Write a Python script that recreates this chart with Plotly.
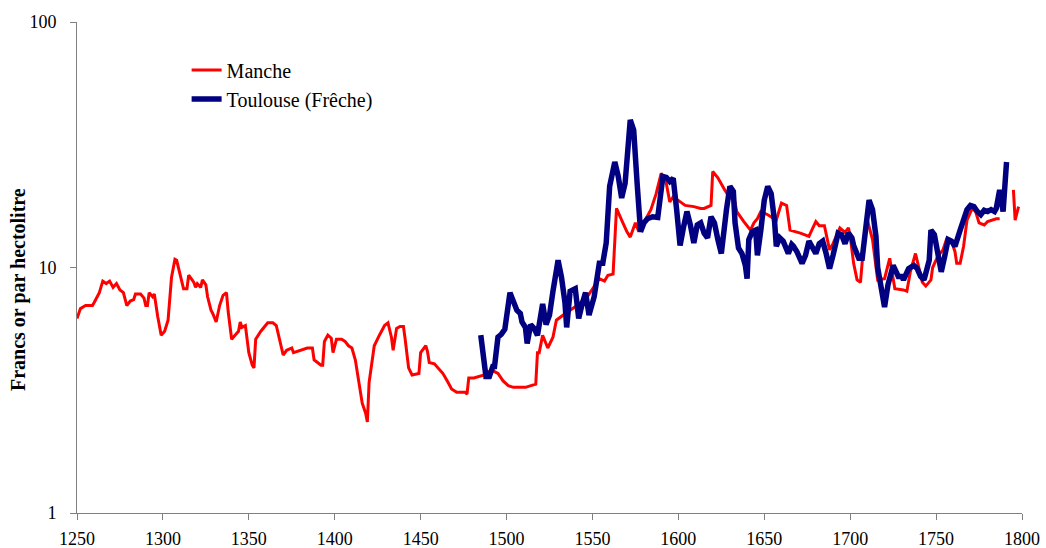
import plotly.graph_objects as go

# Manche series (francs or par hectolitre)
manche_years = [
    1250, 1252, 1255, 1259, 1260, 1263, 1265, 1267, 1269, 1271, 1273, 1275, 1277, 1279,
    1281, 1283, 1284, 1287, 1289, 1290, 1291, 1292, 1294, 1295, 1297, 1299, 1301, 1303,
    1305, 1307, 1308, 1310, 1312, 1314, 1315, 1317, 1318, 1319, 1320, 1322, 1323, 1325,
    1326, 1328, 1329, 1331, 1333, 1335, 1337, 1338, 1340, 1342, 1344, 1345, 1346, 1348,
    1349, 1350, 1352, 1353, 1354, 1357, 1361, 1364, 1366, 1368, 1370, 1372, 1375, 1376,
    1380, 1384, 1387, 1388, 1390, 1392, 1393, 1394, 1396, 1398, 1399, 1401, 1404, 1406,
    1408, 1410, 1412, 1414, 1416, 1418, 1419, 1420, 1423, 1426, 1429, 1431, 1433, 1434,
    1436, 1438, 1440, 1441, 1443, 1445, 1449, 1450, 1453, 1454, 1455, 1458, 1460, 1463,
    1466, 1468, 1471, 1474, 1476, 1477, 1478, 1481, 1484, 1487, 1489, 1492, 1495, 1498,
    1501, 1504, 1511, 1514, 1517, 1518, 1519, 1521, 1524, 1527, 1529, 1533, 1537, 1541,
    1547, 1550, 1554, 1557, 1559, 1562, 1564, 1567, 1570, 1572, 1575, 1577, 1581, 1584,
    1587, 1590, 1593, 1595, 1597, 1601, 1604, 1609, 1613, 1615, 1619, 1620, 1623, 1627,
    1630, 1632, 1634, 1638, 1642, 1644, 1646, 1648, 1652, 1657, 1660, 1663, 1665, 1671,
    1676, 1680, 1682, 1685, 1688, 1690, 1694, 1697, 1699, 1700, 1702, 1704, 1706, 1708,
    1710, 1713, 1716, 1720, 1723, 1726, 1731, 1733, 1735, 1738, 1740, 1742, 1744, 1747,
    1748, 1751, 1754, 1756, 1759, 1761, 1762, 1764, 1766, 1768, 1771, 1773, 1775, 1778,
    1780, 1782, 1785, 1787, 1790, 1795, 1796, 1798,
]
manche_prices = [
    6.2, 6.8, 7.0, 7.0, 7.2, 7.9, 8.8, 8.6, 8.8, 8.3, 8.6, 8.1, 7.9, 7.0,
    7.3, 7.4, 7.8, 7.8, 7.5, 7.0, 7.0, 7.9, 7.6, 7.8, 6.3, 5.3, 5.5, 6.1,
    9.1, 10.8, 10.7, 9.4, 8.2, 8.2, 9.3, 8.9, 8.7, 8.3, 8.6, 8.3, 8.9, 8.5,
    7.6, 6.7, 6.5, 6.0, 7.0, 7.7, 7.9, 6.6, 5.1, 5.3, 5.5, 6.0, 5.7, 5.8,
    5.2, 4.5, 4.0, 3.9, 5.1, 5.5, 5.95, 5.95, 5.8, 5.1, 4.4, 4.6, 4.7, 4.5,
    4.6, 4.7, 4.7, 4.2, 4.1, 4.0, 4.0, 5.0, 5.3, 5.15, 4.5, 5.1, 5.1, 5.0,
    4.8, 4.7, 4.2, 3.4, 2.8, 2.55, 2.35, 3.4, 4.8, 5.3, 5.8, 5.95, 5.2, 4.6,
    5.65, 5.75, 5.75, 5.1, 3.9, 3.65, 3.7, 4.5, 4.8, 4.55, 4.1, 4.05, 3.9, 3.7,
    3.4, 3.2, 3.1, 3.1, 3.1, 3.05, 3.55, 3.55, 3.6, 3.65, 3.75, 3.8, 3.7, 3.45,
    3.3, 3.25, 3.25, 3.3, 3.35, 4.5, 4.5, 5.3, 4.7, 5.2, 6.1, 6.4, 6.7, 7.0,
    7.6, 8.2, 9.0, 8.8, 9.3, 9.4, 17.4, 15.6, 14.0, 13.3, 15.2, 14.0, 15.8, 17.2,
    19.9, 24.2, 22.0, 18.5, 19.4, 18.5, 17.9, 17.7, 17.4, 17.4, 17.9, 24.6, 23.2, 20.7,
    19.2, 19.8, 16.9, 15.4, 14.2, 15.2, 15.8, 16.9, 16.4, 15.6, 18.3, 17.9, 14.2, 13.8,
    13.4, 15.4, 14.8, 14.8, 11.8, 12.5, 14.5, 13.9, 14.5, 13.4, 10.4, 8.9, 8.7, 12.8,
    15.6, 13.0, 8.9, 9.0, 10.9, 8.2, 8.1, 8.0, 9.6, 11.4, 10.0, 8.7, 8.4, 8.9,
    10.0, 11.1, 11.8, 13.0, 12.8, 11.6, 10.4, 10.4, 12.2, 15.6, 17.4, 16.9, 15.2, 14.9,
    15.4, 15.6, 15.8, 15.8, None, 20.7, 15.6, 17.7,
]

# Toulouse (Frêche) series
toulouse_years = [
    1485, 1487, 1488, 1490, 1492, 1493, 1495, 1497, 1499, 1502, 1504, 1506, 1508, 1509,
    1511, 1512, 1514, 1516, 1518, 1521, 1523, 1525, 1527, 1530, 1532, 1534, 1535, 1537,
    1540, 1542, 1544, 1546, 1548, 1551, 1554, 1556, 1558, 1560, 1563, 1565, 1567, 1569,
    1572, 1574, 1576, 1578, 1580, 1582, 1585, 1588, 1591, 1593, 1595, 1597, 1599, 1601,
    1603, 1605, 1607, 1609, 1611, 1613, 1615, 1617, 1619, 1621, 1623, 1625, 1628, 1630,
    1632, 1633, 1635, 1637, 1639, 1640, 1641, 1643, 1645, 1646, 1648, 1650, 1652, 1654,
    1656, 1657, 1659, 1661, 1664, 1666, 1667, 1669, 1672, 1674, 1676, 1678, 1680, 1682,
    1684, 1686, 1688, 1690, 1693, 1695, 1697, 1699, 1701, 1702, 1705, 1707, 1709, 1711,
    1713, 1715, 1716, 1718, 1720, 1722, 1725, 1728, 1730, 1731, 1734, 1737, 1739, 1741,
    1743, 1746, 1747, 1749, 1751, 1753, 1755, 1757, 1759, 1761, 1764, 1766, 1768, 1770,
    1772, 1774, 1776, 1778, 1780, 1782, 1784, 1785, 1787, 1789, 1791,
]
toulouse_prices = [
    5.3, 4.0, 3.6, 3.6, 3.95, 3.95, 5.2, 5.35, 5.6, 7.9, 7.3, 6.7, 6.5, 6.0,
    5.7, 4.9, 5.85, 5.65, 5.3, 7.1, 5.85, 6.4, 8.0, 10.7, 9.1, 7.2, 5.7, 8.0,
    8.2, 6.2, 7.1, 7.9, 6.4, 7.6, 10.4, 10.4, 12.6, 21.4, 26.9, 23.5, 19.2, 22.0,
    39.9, 36.3, 22.0, 14.0, 15.2, 15.8, 16.1, 16.0, 23.5, 23.3, 22.4, 23.1, 17.2, 12.3,
    14.6, 16.9, 14.9, 12.6, 14.9, 15.2, 13.8, 13.2, 16.1, 15.2, 13.0, 11.4, 17.2, 21.4,
    20.4, 15.2, 12.0, 11.4, 10.2, 9.0, 13.0, 14.0, 14.2, 11.2, 14.2, 18.8, 21.4, 20.0,
    15.4, 12.2, 13.2, 12.8, 11.4, 12.4, 12.2, 11.6, 10.4, 11.2, 12.8, 12.2, 11.4, 12.5,
    12.8, 11.4, 9.9, 11.2, 13.8, 13.6, 12.5, 13.8, 13.2, 12.3, 10.9, 10.9, 14.5, 18.8,
    17.2, 13.4, 10.0, 8.1, 6.9, 8.5, 10.2, 9.2, 9.2, 8.9, 9.9, 10.2, 9.9, 9.2,
    8.9, 10.7, 14.2, 13.6, 11.4, 9.6, 11.1, 13.0, 12.8, 12.2, 14.2, 15.8, 17.2, 17.9,
    17.7, 16.9, 16.4, 17.1, 16.9, 17.2, 16.9, 17.4, 20.7, 16.9, 26.9,
]

x_ticks = [1250, 1300, 1350, 1400, 1450, 1500, 1550, 1600, 1650, 1700, 1750, 1800]
y_ticks = [1, 10, 100]
y_tick_labels = ["1", "10", "100"]

SERIF = "Liberation Serif, Times New Roman, serif"

fig = go.Figure()
fig.add_trace(go.Scatter(
    x=manche_years, y=manche_prices, mode="lines", name="Manche",
    line=dict(color="#FF0000", width=3), connectgaps=False,
))
fig.add_trace(go.Scatter(
    x=toulouse_years, y=toulouse_prices, mode="lines", name="Toulouse (Frêche)",
    line=dict(color="#000080", width=5.5),
))

fig.update_layout(
    width=1046, height=548,
    margin=dict(l=77, r=24, t=22, b=35, autoexpand=False),
    paper_bgcolor="white", plot_bgcolor="white",
    font=dict(family=SERIF, size=18, color="black"),
    showlegend=True,
    legend=dict(
        x=0.116, y=0.942, xanchor="left", yanchor="top",
        bgcolor="rgba(0,0,0,0)", font=dict(family=SERIF, size=20, color="black"),
        itemwidth=30, tracegroupgap=0,
    ),
    xaxis=dict(
        range=[1250, 1800], tickvals=x_ticks, ticks="outside", ticklen=6,
        tickcolor="#808080", showline=True, linecolor="#808080", linewidth=1,
        showgrid=False, zeroline=False, tickfont=dict(family=SERIF, size=18),
        ticklabelstandoff=3, automargin=False,
    ),
    yaxis=dict(
        type="log", range=[0, 2], tickvals=y_ticks, ticktext=y_tick_labels,
        ticks="outside", ticklen=6, tickcolor="#808080",
        showline=True, linecolor="#808080", linewidth=1,
        showgrid=False, zeroline=False, tickfont=dict(family=SERIF, size=18),
        ticklabelstandoff=10, automargin=False,
    ),
    annotations=[dict(
        text="<b>Francs or par hectolitre</b>", textangle=-90,
        x=-0.062, y=0.455, xref="paper", yref="paper",
        xanchor="center", yanchor="middle", showarrow=False,
        font=dict(family=SERIF, size=20, color="black"),
    )],
)

# remove the default page margin so the figure fills the window exactly
fig.write_html(
    "out.html",
    config={"displayModeBar": False},
    post_script="document.body.style.margin='0';document.body.style.overflow='hidden';",
)
